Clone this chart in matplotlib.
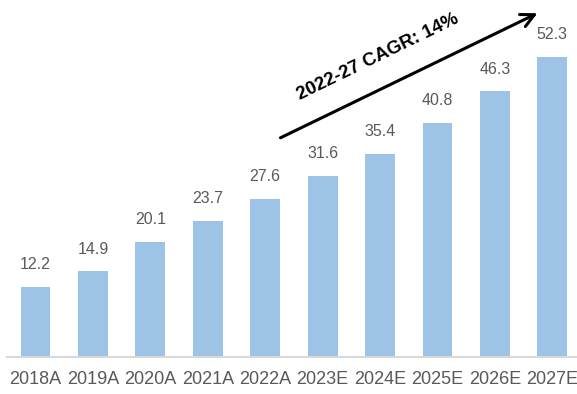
import matplotlib
matplotlib.use("Agg")
import matplotlib.pyplot as plt
import numpy as np

years = ["2018A", "2019A", "2020A", "2021A", "2022A",
         "2023E", "2024E", "2025E", "2026E", "2027E"]
values = [12.2, 14.9, 20.1, 23.7, 27.6, 31.6, 35.4, 40.8, 46.3, 52.3]
cagr_text = "2022-27 CAGR: 14%"

plt.rcParams['font.family'] = ['Liberation Sans', 'DejaVu Sans']

bar_color = '#9DC3E6'
text_color = '#595959'

fig = plt.figure(figsize=(5.77, 3.94), dpi=100)
ax = fig.add_axes([7 / 577, 37 / 394, 570 / 577, 357 / 394])

x = np.arange(len(years))
bars = ax.bar(x, values, width=0.52, color=bar_color, zorder=2)

for xi, v in zip(x, values):
    ax.annotate(f"{v:.1f}", (xi, v), xytext=(0, 10.5), textcoords='offset points',
                ha='center', va='bottom', fontsize=11.5, color=text_color)

ax.set_xlim(-0.497, 9.43)
ax.set_ylim(0, 62.2)
ax.set_xticks(x)
ax.set_xticklabels(years, fontsize=13, color=text_color)
ax.tick_params(axis='x', length=0, pad=10)
ax.set_yticks([])

for side in ['top', 'right', 'left']:
    ax.spines[side].set_visible(False)
ax.spines['bottom'].set_color('#D9D9D9')
ax.spines['bottom'].set_linewidth(1.5)

# growth arrow with the CAGR note along it
ax.annotate("", xy=(540, 382), xytext=(278, 255), xycoords='figure pixels',
            textcoords='figure pixels',
            arrowprops=dict(arrowstyle='->', color='black', lw=2.2,
                            mutation_scale=24))
fig.text(378 / 577, 1 - 57 / 394, cagr_text, rotation=26, ha='center', va='center',
         fontsize=13.5, fontweight='bold', color='black', rotation_mode='anchor')

fig.savefig("out.png", dpi=100)
